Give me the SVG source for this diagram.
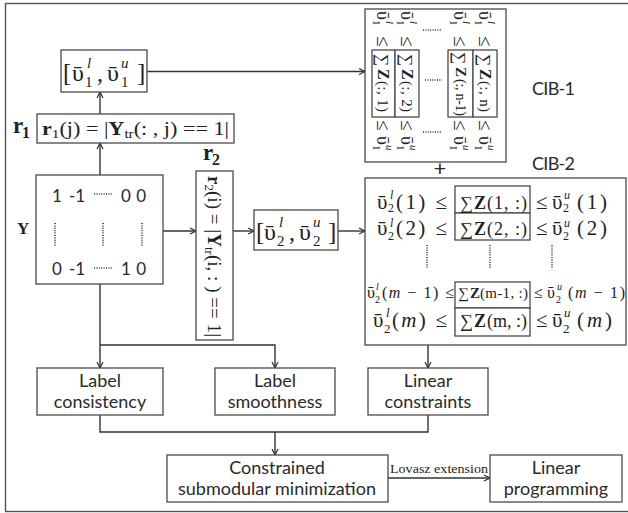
<svg xmlns="http://www.w3.org/2000/svg" width="628" height="513" viewBox="0 0 628 513">
  <style>
    .box { fill: #fff; stroke: #4a4a4a; stroke-width: 1.3; }
    .ln { fill: none; stroke: #333; stroke-width: 1.4; }
    .arr { fill: none; stroke: #333; stroke-width: 1.4; marker-end: url(#ah); }
    .dot { fill: none; stroke: #333; stroke-width: 1.6; stroke-dasharray: 1 1.4; }
    .m { font-family: "Liberation Serif", "DejaVu Serif", serif; fill: #222; }
    .s { font-family: Lato, "Open Sans", "Liberation Sans", sans-serif; fill: #2a2a2a; }
    .b { font-weight: bold; }
    .i { font-style: italic; }
  </style>
  <defs>
    <marker id="ah" markerUnits="userSpaceOnUse" markerWidth="8" markerHeight="8" refX="7" refY="4" orient="auto">
      <path d="M1,1 L7,4 L1,7" fill="none" stroke="#333" stroke-width="1.2"/>
    </marker>
  </defs>

  <rect width="628" height="513" fill="#fff"/>
  <!-- outer frame -->
  <rect x="5.5" y="3.5" width="640" height="508" fill="none" stroke="#555" stroke-width="1.4"/>

  <!-- connectors -->
  <g id="connectors">
    <path class="arr" d="M100,175 V143"/>
    <path class="arr" d="M100,114 V92"/>
    <path class="arr" d="M147,71.5 H365"/>
    <path class="arr" d="M163,231 H196"/>
    <path class="arr" d="M233,231 H254"/>
    <path class="arr" d="M338,231 H365"/>
    <path class="arr" d="M100,284 V368"/>
    <path class="arr" d="M100,345 H275 V368"/>
    <path class="arr" d="M428,345 V368"/>
    <path class="ln" d="M100,415 V432 H428 V415"/>
    <path class="arr" d="M275,432 V455"/>
    <path class="arr" d="M388,478 H490"/>
    <text class="m" x="390" y="473" font-size="13" textLength="98" lengthAdjust="spacingAndGlyphs">Lovasz extension</text>
  </g>

  <!-- interval for column sums -->
  <g id="v1">
    <rect class="box" x="61" y="50" width="86" height="42"/>
    <text class="m" x="63" y="81" font-size="25">[</text>
    <text class="m" x="72" y="81" font-size="24">ῡ</text>
    <text class="m" x="85" y="87" font-size="15">1</text>
    <text class="m i" x="87" y="68" font-size="15">l</text>
    <text class="m" x="97" y="81" font-size="24">,</text>
    <text class="m" x="107" y="81" font-size="24">ῡ</text>
    <text class="m" x="121" y="87" font-size="15">1</text>
    <text class="m i" x="121" y="68" font-size="15">u</text>
    <text class="m" x="137" y="81" font-size="25">]</text>
  </g>

  <!-- r1 -->
  <g id="r1">
    <text class="m b" x="13" y="133" font-size="23">r</text>
    <text class="m b" x="22" y="138" font-size="16">1</text>
    <rect class="box" x="37" y="114" width="197" height="29"/>
    <text class="m" x="42" y="135" font-size="19" textLength="187" lengthAdjust="spacingAndGlyphs"><tspan class="b">r</tspan><tspan font-size="13" dy="3">1</tspan><tspan dy="-3">(j) = |</tspan><tspan class="b">Y</tspan><tspan font-size="13" dy="3">tr</tspan><tspan dy="-3">(: , j) == 1|</tspan></text>
  </g>

  <!-- label matrix Y -->
  <g id="Y">
    <text class="m b" x="17" y="234" font-size="17">Y</text>
    <rect class="box" x="36" y="175" width="127" height="109"/>
    <g class="s" font-size="17">
      <text x="52" y="202">1</text>
      <text x="69" y="202">-1</text>
      <text x="121" y="202" textLength="25">0 0</text>
      <text x="52" y="275">0</text>
      <text x="69" y="275">-1</text>
      <text x="121" y="275" textLength="25">1 0</text>
    </g>
    <path class="dot" d="M94,194 H112 M94,268 H112 M55,223 V247 M103,223 V247 M142,223 V247"/>
  </g>

  <!-- r2 -->
  <g id="r2">
    <text class="m b" x="203" y="160" font-size="23">r</text>
    <text class="m b" x="212" y="165" font-size="16">2</text>
    <rect class="box" x="196" y="171" width="37" height="169"/>
    <g transform="translate(208,176) rotate(90)">
      <text class="m" x="0" y="0" font-size="19" textLength="161" lengthAdjust="spacingAndGlyphs"><tspan class="b">r</tspan><tspan font-size="13" dy="3">2</tspan><tspan dy="-3">(i) = |</tspan><tspan class="b">Y</tspan><tspan font-size="13" dy="3">tr</tspan><tspan dy="-3">(i, : ) == 1|</tspan></text>
    </g>
  </g>

  <!-- interval for row sums -->
  <g id="v2">
    <rect class="box" x="254" y="210" width="84" height="40"/>
    <text class="m" x="256" y="240" font-size="25">[</text>
    <text class="m" x="264" y="240" font-size="24">ῡ</text>
    <text class="m" x="277" y="246" font-size="15">2</text>
    <text class="m i" x="279" y="227" font-size="15">l</text>
    <text class="m" x="289" y="240" font-size="24">,</text>
    <text class="m" x="299" y="240" font-size="24">ῡ</text>
    <text class="m" x="313" y="246" font-size="15">2</text>
    <text class="m i" x="313" y="227" font-size="15">u</text>
    <text class="m" x="328" y="240" font-size="25">]</text>
  </g>

  <!-- CIB-1: column constraints -->
  <g id="cib1">
    <rect class="box" x="365" y="9" width="141" height="153"/>
    <rect class="box" x="372" y="50" width="23" height="67"/>
    <rect class="box" x="395" y="50" width="24" height="67"/>
    <rect class="box" x="448" y="50" width="25" height="67"/>
    <rect class="box" x="473" y="50" width="24" height="67"/>
    <path class="dot" d="M423,30 H442 M425,80 H442 M423,132 H442"/>
    <g transform="translate(383,0) rotate(90)" class="m" font-size="18">
      <text x="11" y="6">ῡ</text><text x="20" y="10" font-size="11">1</text><text class="i" x="21" y="-3" font-size="11">l</text>
      <text x="36" y="6" font-size="19">≤</text>
      <text x="54" y="6" font-size="17">∑</text><text class="b" x="69" y="5" font-size="16">Z</text><text x="81" y="5" font-size="15" textLength="31">(:, 1)</text>
      <text x="120" y="6" font-size="19">≤</text>
      <text x="136" y="6">ῡ</text><text x="145" y="10" font-size="11">1</text><text class="i" x="145" y="-3" font-size="11">u</text>
    </g>
    <g transform="translate(407,0) rotate(90)" class="m" font-size="18">
      <text x="11" y="6">ῡ</text><text x="20" y="10" font-size="11">1</text><text class="i" x="21" y="-3" font-size="11">l</text>
      <text x="36" y="6" font-size="19">≤</text>
      <text x="54" y="6" font-size="17">∑</text><text class="b" x="69" y="5" font-size="16">Z</text><text x="81" y="5" font-size="15" textLength="31">(:, 2)</text>
      <text x="120" y="6" font-size="19">≤</text>
      <text x="136" y="6">ῡ</text><text x="145" y="10" font-size="11">1</text><text class="i" x="145" y="-3" font-size="11">u</text>
    </g>
    <g transform="translate(460,0) rotate(90)" class="m" font-size="18">
      <text x="11" y="6">ῡ</text><text x="20" y="10" font-size="11">1</text><text class="i" x="21" y="-3" font-size="11">l</text>
      <text x="36" y="6" font-size="19">≤</text>
      <text x="52" y="6" font-size="17">∑</text><text class="b" x="67" y="4" font-size="15">Z</text><text x="79" y="4" font-size="14" textLength="37">(:, n-1)</text>
      <text x="120" y="6" font-size="19">≤</text>
      <text x="136" y="6">ῡ</text><text x="145" y="10" font-size="11">1</text><text class="i" x="145" y="-3" font-size="11">u</text>
    </g>
    <g transform="translate(485,0) rotate(90)" class="m" font-size="18">
      <text x="11" y="6">ῡ</text><text x="20" y="10" font-size="11">1</text><text class="i" x="21" y="-3" font-size="11">l</text>
      <text x="36" y="6" font-size="19">≤</text>
      <text x="54" y="6" font-size="17">∑</text><text class="b" x="69" y="5" font-size="16">Z</text><text x="81" y="5" font-size="15" textLength="31">(:, n)</text>
      <text x="120" y="6" font-size="19">≤</text>
      <text x="136" y="6">ῡ</text><text x="145" y="10" font-size="11">1</text><text class="i" x="145" y="-3" font-size="11">u</text>
    </g>
    <text class="s" x="532" y="95" font-size="18" textLength="43">CIB-1</text>
  </g>

  <text class="s" x="440" y="176" font-size="22" text-anchor="middle">+</text>

  <!-- CIB-2: row constraints -->
  <g id="cib2">
    <text class="s" x="532" y="170" font-size="18" textLength="43">CIB-2</text>
    <rect class="box" x="365" y="178" width="261" height="167"/>
    <rect class="box" x="455" y="186" width="75" height="27"/>
    <rect class="box" x="455" y="213" width="75" height="27"/>
    <rect class="box" x="455" y="282" width="75" height="26"/>
    <rect class="box" x="455" y="308" width="75" height="28"/>
    <g class="m" font-size="21">
      <!-- row 1 -->
      <text x="377" y="209">ῡ</text><text x="388" y="212" font-size="12">2</text><text class="i" x="390" y="199" font-size="12">l</text>
      <text x="396" y="209" textLength="51">(1) ≤</text>
      <text x="460" y="209" font-size="18">∑</text><text class="b" x="474" y="209" font-size="18">Z</text><text x="487" y="209" font-size="18" textLength="40">(1, :)</text>
      <text x="536" y="209">≤</text><text x="552" y="209">ῡ</text><text x="563" y="212" font-size="12">2</text><text class="i" x="564" y="199" font-size="12">u</text>
      <text x="577" y="209" textLength="30">(1)</text>
      <!-- row 2 -->
      <text x="377" y="235">ῡ</text><text x="388" y="240" font-size="12">2</text><text class="i" x="390" y="227" font-size="12">l</text>
      <text x="396" y="235" textLength="51">(2) ≤</text>
      <text x="460" y="235" font-size="18">∑</text><text class="b" x="474" y="235" font-size="18">Z</text><text x="487" y="235" font-size="18" textLength="40">(2, :)</text>
      <text x="536" y="235">≤</text><text x="552" y="235">ῡ</text><text x="563" y="240" font-size="12">2</text><text class="i" x="564" y="227" font-size="12">u</text>
      <text x="577" y="235" textLength="30">(2)</text>
      <!-- row m-1 -->
      <text x="367" y="298" font-size="16">ῡ</text><text x="375" y="303" font-size="10">2</text><text class="i" x="376" y="290" font-size="10">l</text>
      <text x="382" y="298" font-size="16" textLength="72">(<tspan class="i">m</tspan> − 1) ≤</text>
      <text x="458" y="298" font-size="15">∑</text><text class="b" x="470" y="298" font-size="15">Z</text><text x="480" y="298" font-size="15" textLength="48">(m-1, :)</text>
      <text x="534" y="298" font-size="16">≤</text><text x="547" y="298" font-size="16">ῡ</text><text x="556" y="303" font-size="10">2</text><text class="i" x="557" y="290" font-size="10">u</text>
      <text x="568" y="298" font-size="16" textLength="57">(<tspan class="i">m</tspan> − 1)</text>
      <!-- row m -->
      <text x="373" y="327">ῡ</text><text x="384" y="333" font-size="13">2</text><text class="i" x="386" y="317" font-size="13">l</text>
      <text x="392" y="327" textLength="55">(<tspan class="i">m</tspan>) ≤</text>
      <text x="460" y="327" font-size="18">∑</text><text class="b" x="474" y="327" font-size="18">Z</text><text x="487" y="327" font-size="18" textLength="40">(m, :)</text>
      <text x="536" y="327">≤</text><text x="552" y="327">ῡ</text><text x="563" y="333" font-size="13">2</text><text class="i" x="564" y="317" font-size="13">u</text>
      <text x="577" y="327" textLength="35">(<tspan class="i">m</tspan>)</text>
    </g>
    <path class="dot" d="M427,245 V268 M490,245 V268 M552,245 V268"/>
  </g>

  <!-- objective terms -->
  <g id="consistency">
    <rect class="box" x="37" y="368" width="126" height="47"/>
    <text class="s" x="100" y="387" font-size="18" text-anchor="middle">Label</text>
    <text class="s" x="100" y="408" font-size="18" text-anchor="middle">consistency</text>
  </g>
  <g id="smoothness">
    <rect class="box" x="215" y="368" width="120" height="47"/>
    <text class="s" x="275" y="387" font-size="18" text-anchor="middle">Label</text>
    <text class="s" x="275" y="408" font-size="18" text-anchor="middle">smoothness</text>
  </g>
  <g id="linear-constraints">
    <rect class="box" x="368" y="368" width="120" height="47"/>
    <text class="s" x="428" y="387" font-size="18" text-anchor="middle">Linear</text>
    <text class="s" x="428" y="408" font-size="18" text-anchor="middle">constraints</text>
  </g>
  <g id="submodular">
    <rect class="box" x="167" y="455" width="221" height="47"/>
    <text class="s" x="277" y="474" font-size="18" text-anchor="middle">Constrained</text>
    <text class="s" x="277" y="495" font-size="18" text-anchor="middle">submodular minimization</text>
  </g>
  <g id="lp">
    <rect class="box" x="490" y="455" width="132" height="47"/>
    <text class="s" x="556" y="474" font-size="18" text-anchor="middle">Linear</text>
    <text class="s" x="556" y="495" font-size="18" text-anchor="middle">programming</text>
  </g>
</svg>
